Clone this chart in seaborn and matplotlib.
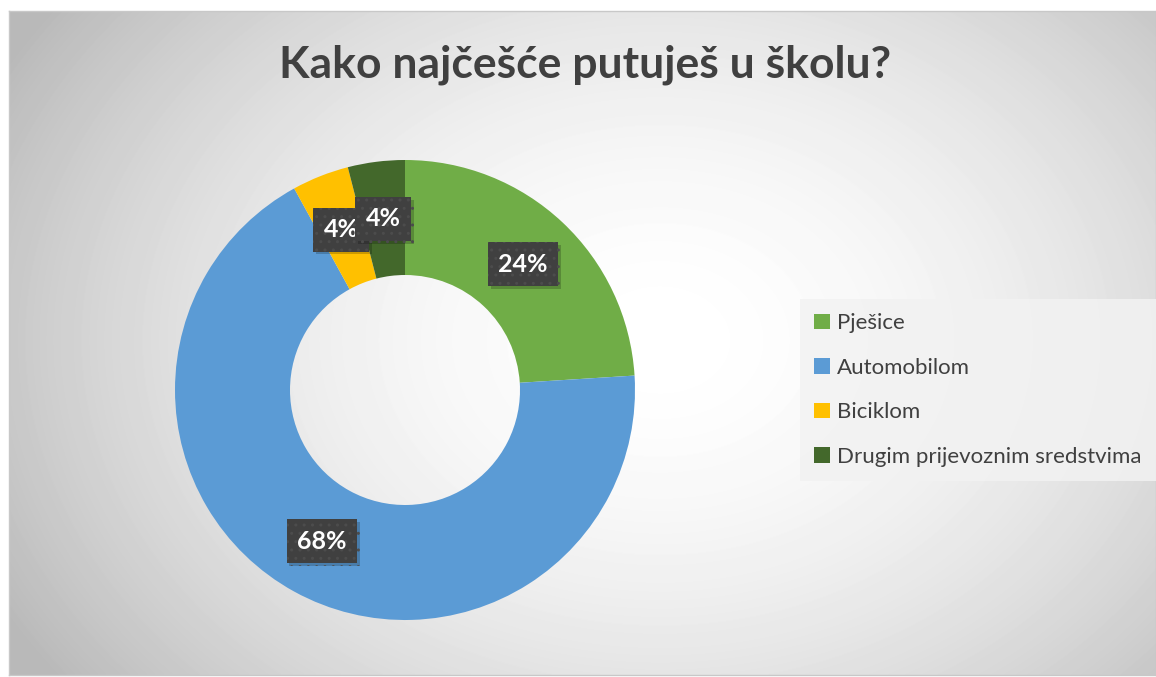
import numpy as np
import matplotlib
matplotlib.use("Agg")
import matplotlib.pyplot as plt
import matplotlib.patheffects as pe
from matplotlib.patches import Patch
import seaborn as sns

# data
title = "Kako najčešće putuješ u školu?"
categories = ["Pješice", "Automobilom", "Biciklom", "Drugim prijevoznim sredstvima"]
shares = [24, 68, 4, 4]
labels = ["24%", "68%", "4%", "4%"]
colors = ["#70AD47", "#5B9BD5", "#FFC000", "#43682B"]

sns.set_theme(style="white")
plt.rcParams["font.family"] = ["Lato", "DejaVu Sans"]

W, H = 1156, 677
fig = plt.figure(figsize=(W / 100, H / 100), dpi=100)
fig.patch.set_facecolor("white")

# chart area with a soft radial gradient
x0, y0, x1, y1 = 9, 11, 1156, 675
bg = fig.add_axes([x0 / W, (H - y1) / H, (x1 - x0) / W, (y1 - y0) / H])
gx, gy = np.meshgrid(np.arange(x0, x1), np.arange(y0, y1))
dist = np.sqrt(((gx - 660) / 680) ** 2 + ((gy - 340) / 520) ** 2)
shade = 1 - 0.23 * np.clip(dist, 0, 1.1) ** 1.8
bg.imshow(shade, cmap="gray", vmin=0, vmax=1, aspect="auto",
          interpolation="bilinear")
bg.set_xticks([])
bg.set_yticks([])
for s in bg.spines.values():
    s.set_color("#c8c8c8")
    s.set_linewidth(1)

# donut
cx, cy, r = 405, 390, 230
ax = fig.add_axes([(cx - r) / W, (H - cy - r) / H, 2 * r / W, 2 * r / H])
ax.set_facecolor("none")
wedges, _ = ax.pie(shares, colors=colors, startangle=90, counterclock=False,
                   radius=1, wedgeprops=dict(width=0.5, linewidth=0))
ax.set_xlim(-1, 1)
ax.set_ylim(-1, 1)
ax.set_aspect("equal")
ax.axis("off")

for w, lab in zip(wedges, labels):
    ang = np.deg2rad((w.theta1 + w.theta2) / 2)
    t = ax.text(0.75 * np.cos(ang), 0.75 * np.sin(ang), lab,
                ha="center", va="center", color="white", fontsize=18,
                fontweight="bold",
                bbox=dict(boxstyle="square,pad=0.42", facecolor="#404040",
                          edgecolor="#4c4c4c", linewidth=0, hatch=".."))
    t.get_bbox_patch().set_path_effects(
        [pe.SimplePatchShadow(offset=(2, -2), shadow_rgbFace="#000000", alpha=0.2),
         pe.Normal()])

fig.text(0.506, 0.905, title, ha="center", va="center", fontsize=32,
         fontweight="bold", color="#404040")

handles = [Patch(facecolor=c, edgecolor="none") for c in colors]
leg = fig.legend(handles, categories, loc="upper left",
                 bbox_to_anchor=(800 / W, (H - 299) / H), borderaxespad=0,
                 fontsize=16, labelcolor="#404040", frameon=True,
                 handlelength=0.7, handleheight=0.7, handletextpad=0.3,
                 labelspacing=1.1, borderpad=0.65, fancybox=False)
leg.get_frame().set_facecolor("#f2f2f2")
leg.get_frame().set_alpha(0.85)
leg.get_frame().set_edgecolor("none")

fig.savefig("out.png", dpi=100)
